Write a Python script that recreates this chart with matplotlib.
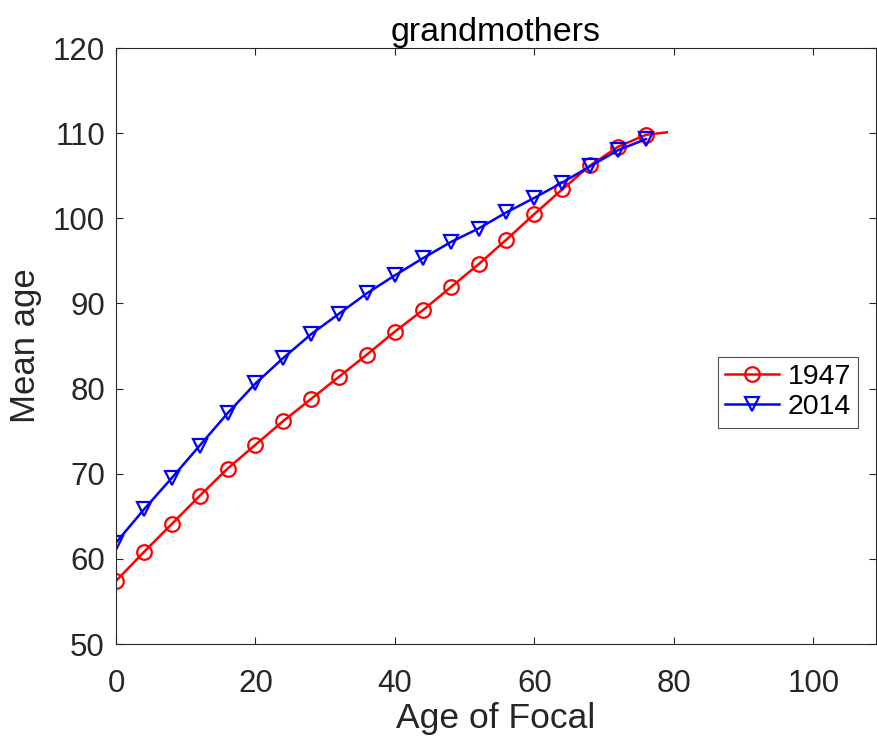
import matplotlib
matplotlib.use('Agg')
import matplotlib.pyplot as plt

# ages of focal (markers every 4 years)
ages_1947 = [0, 4, 8, 12, 16, 20, 24, 28, 32, 36, 40, 44, 48, 52, 56, 60, 64, 68, 72, 76, 79]
mean_1947 = [57.4, 60.8, 64.1, 67.4, 70.6, 73.4, 76.2, 78.8, 81.4, 84.0, 86.7, 89.2,
             91.9, 94.6, 97.5, 100.5, 103.4, 106.2, 108.4, 109.8, 110.1]

ages_2014 = [0, 4, 8, 12, 16, 20, 24, 28, 32, 36, 40, 44, 48, 52, 56, 60, 64, 68, 72, 76]
mean_2014 = [61.9, 65.8, 69.5, 73.3, 77.1, 80.6, 83.6, 86.4, 88.8, 91.2, 93.3, 95.3,
             97.2, 98.8, 100.7, 102.4, 104.2, 106.1, 108.0, 109.3]

plt.rcParams['font.family'] = ['Liberation Sans', 'DejaVu Sans']
dark = '#262626'

fig = plt.figure(figsize=(8.77, 7.40), dpi=100)
ax = fig.add_axes([116 / 877, 1 - 644 / 740, 760 / 877, 596 / 740])

ax.plot(ages_1947, mean_1947, color='red', linewidth=1.8, marker='o', markersize=10.5,
        markerfacecolor='none', markeredgewidth=1.6, markevery=list(range(20)), label='1947')
ax.plot(ages_2014, mean_2014, color='blue', linewidth=1.8, marker='v', markersize=10.5,
        markerfacecolor='none', markeredgewidth=1.6, label='2014')

ax.set_xlim(0, 109)
ax.set_ylim(50, 120)
ax.set_xticks([0, 20, 40, 60, 80, 100])
ax.set_yticks([50, 60, 70, 80, 90, 100, 110, 120])
ax.tick_params(direction='in', length=5, width=0.8, colors=dark, labelsize=22.5,
               top=True, right=True, pad=8)
ax.tick_params(axis='x', pad=18)
for s in ax.spines.values():
    s.set_color(dark)
    s.set_linewidth(0.8)

ax.set_xlabel('Age of Focal', fontsize=25.5, color=dark, labelpad=2)
ax.set_ylabel('Mean age', fontsize=25, color=dark, labelpad=8)
ax.set_title('grandmothers', fontsize=24.5, color='black', pad=5)

leg = ax.legend(loc='upper left', bbox_to_anchor=(718 / 877, 1 - 357 / 740),
                bbox_transform=fig.transFigure, fontsize=20.5, frameon=True, fancybox=False,
                handlelength=1.9, handletextpad=0.3, borderpad=0.25, labelspacing=0.15,
                borderaxespad=0)
leg.get_frame().set_edgecolor(dark)
leg.get_frame().set_linewidth(0.8)

fig.savefig('out.png', dpi=100)
plt.close(fig)
